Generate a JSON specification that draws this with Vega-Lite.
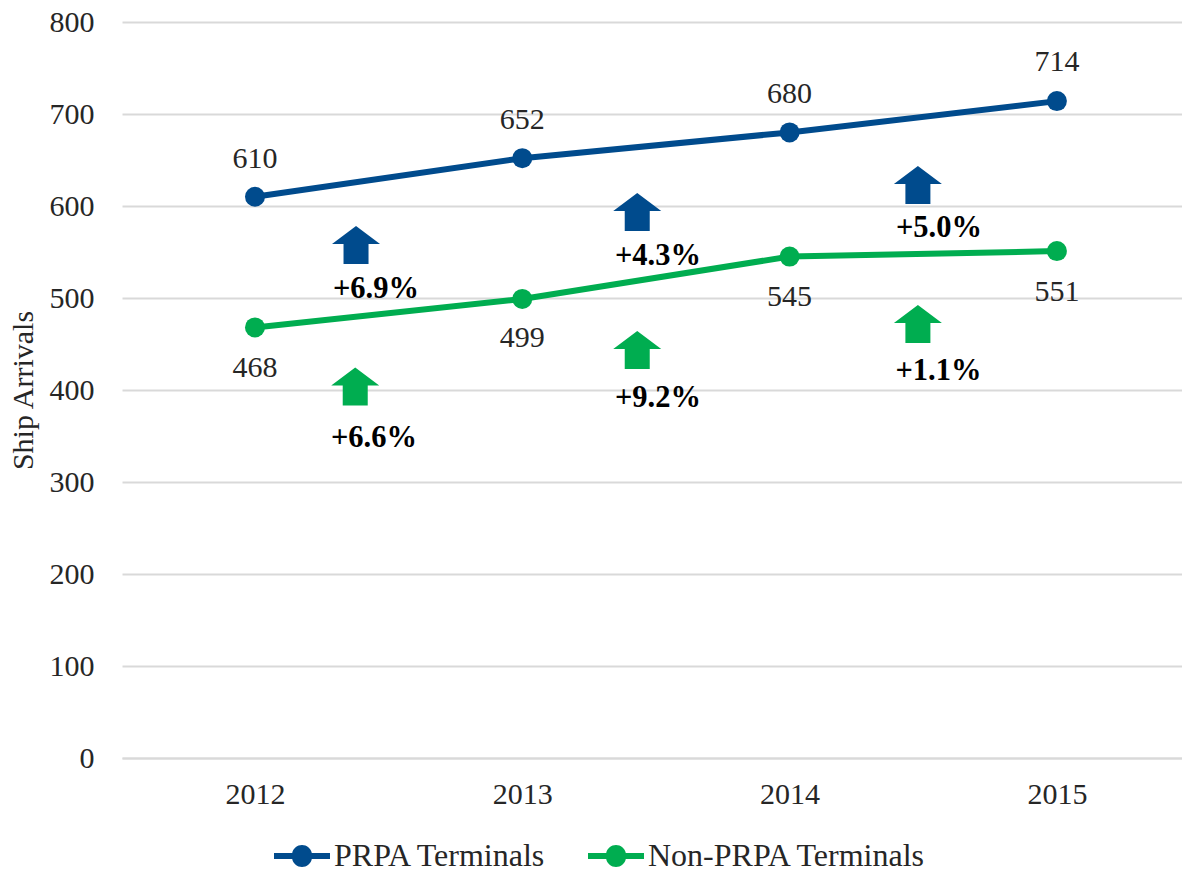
{"$schema":"https://vega.github.io/schema/vega-lite/v6.json","width":1060,"height":736,"autosize":"none","padding":{"left":122,"top":22,"right":0,"bottom":111},"background":"white","config":{"view":{"stroke":null},"font":"Liberation Serif"},"datasets":{"lines":[{"year":2012,"v":610,"s":"PRPA Terminals"},{"year":2013,"v":652,"s":"PRPA Terminals"},{"year":2014,"v":680,"s":"PRPA Terminals"},{"year":2015,"v":714,"s":"PRPA Terminals"},{"year":2012,"v":468,"s":"Non-PRPA Terminals"},{"year":2013,"v":499,"s":"Non-PRPA Terminals"},{"year":2014,"v":545,"s":"Non-PRPA Terminals"},{"year":2015,"v":551,"s":"Non-PRPA Terminals"}],"labels":[{"year":2012,"v":651,"t":"610"},{"year":2013,"v":693,"t":"652"},{"year":2014,"v":722,"t":"680"},{"year":2015,"v":756,"t":"714"},{"year":2012,"v":424,"t":"468"},{"year":2013,"v":456,"t":"499"},{"year":2014,"v":501,"t":"545"},{"year":2015,"v":507,"t":"551"}],"arrows":[{"x":2012.378,"v":557.6,"s":"PRPA Terminals"},{"x":2013.43,"v":593.5,"s":"PRPA Terminals"},{"x":2014.48,"v":622.8,"s":"PRPA Terminals"},{"x":2012.375,"v":403.8,"s":"Non-PRPA Terminals"},{"x":2013.43,"v":443.5,"s":"Non-PRPA Terminals"},{"x":2014.48,"v":471.7,"s":"Non-PRPA Terminals"}],"pct":[{"x":2012.4526,"v":510,"t":"+6.9%"},{"x":2013.5075,"v":546,"t":"+4.3%"},{"x":2014.5587,"v":576,"t":"+5.0%"},{"x":2012.445,"v":348,"t":"+6.6%"},{"x":2013.5075,"v":391,"t":"+9.2%"},{"x":2014.557,"v":421,"t":"+1.1%"}]},"layer":[{"data":{"name":"lines"},"mark":{"type":"line","strokeWidth":6,"point":{"filled":true,"size":400,"opacity":1}},"encoding":{"x":{"field":"year","type":"quantitative","scale":{"domain":[2011.5025,2015.468],"nice":false,"zero":false},"axis":{"values":[2012,2013,2014,2015],"format":"d","title":null,"grid":false,"domain":true,"domainColor":"#d9d9d9","domainWidth":2,"ticks":false,"labelFontSize":30,"labelColor":"#262626","labelPadding":21,"labelFont":"Liberation Serif"}},"y":{"field":"v","type":"quantitative","scale":{"domain":[0,800],"nice":false},"axis":{"values":[0,100,200,300,400,500,600,700,800],"title":"Ship Arrivals","titleFontSize":30,"titleFontWeight":"normal","titleColor":"#262626","titlePadding":11,"titleFont":"Liberation Serif","grid":true,"gridColor":"#d9d9d9","gridWidth":2,"domain":false,"ticks":false,"labelFontSize":30,"labelColor":"#262626","labelPadding":28,"labelFont":"Liberation Serif"}},"color":{"field":"s","type":"nominal","scale":{"domain":["PRPA Terminals","Non-PRPA Terminals"],"range":["#004b8d","#00ad50"]},"legend":{"title":null,"orient":"none","legendX":152,"legendY":806,"direction":"horizontal","labelFontSize":32,"labelColor":"#262626","labelFont":"Liberation Serif","labelLimit":400,"symbolType":"M-1,-0.107L-0.35,-0.107A0.357,0.357 0 0 1 0.35,-0.107L1,-0.107L1,0.107L0.35,0.107A0.357,0.357 0 0 1 -0.35,0.107L-1,0.107Z","symbolSize":3136,"symbolStrokeWidth":0,"columnPadding":41,"labelOffset":4}}}},{"data":{"name":"labels"},"mark":{"type":"text","fontSize":30,"color":"#262626","baseline":"middle"},"encoding":{"x":{"field":"year","type":"quantitative"},"y":{"field":"v","type":"quantitative"},"text":{"field":"t"}}},{"data":{"name":"arrows"},"mark":{"type":"point","filled":true,"opacity":1,"size":1600,"shape":"M0,-0.95L1.2,-0.05L0.625,-0.05L0.625,0.95L-0.625,0.95L-0.625,-0.05L-1.2,-0.05Z"},"encoding":{"x":{"field":"x","type":"quantitative"},"y":{"field":"v","type":"quantitative"},"color":{"field":"s","type":"nominal","legend":null}}},{"data":{"name":"pct"},"mark":{"type":"text","fontSize":30.5,"fontWeight":"bold","color":"#000000","baseline":"middle"},"encoding":{"x":{"field":"x","type":"quantitative"},"y":{"field":"v","type":"quantitative"},"text":{"field":"t"}}}]}
